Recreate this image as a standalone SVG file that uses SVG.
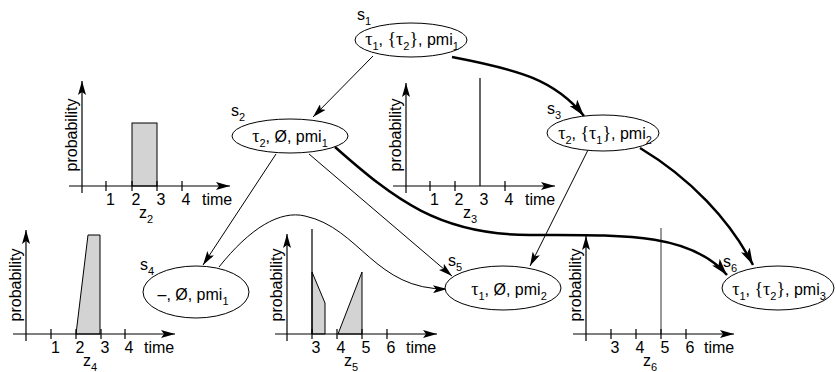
<svg xmlns="http://www.w3.org/2000/svg" width="836" height="372" viewBox="0 0 836 372">
<style>
text{font-family:"Liberation Sans",Arial,sans-serif;font-size:16px;fill:#000}
.g{font-family:"Liberation Serif","Times New Roman",serif;font-size:18px}
.sub{font-size:11px}
.node ellipse{fill:#fff;stroke:#000;stroke-width:1}
.thin{fill:none;stroke:#000;stroke-width:1}
.thick{fill:none;stroke:#000;stroke-width:2.5}
.axis{fill:none;stroke:#000;stroke-width:1.2}
.shade{fill:#d3d3d3;stroke:#000;stroke-width:1}
.mid{text-anchor:middle}
</style>
<defs>
<marker id="a" markerUnits="userSpaceOnUse" markerWidth="14" markerHeight="8" refX="14" refY="4" orient="auto" viewBox="0 0 14 8"><path d="M0,0 L14,4 L0,8 L3,4 Z" fill="#000"/></marker>
<marker id="b" markerUnits="userSpaceOnUse" markerWidth="17" markerHeight="10" refX="17" refY="5" orient="auto" viewBox="0 0 17 10"><path d="M0,0 L17,5 L0,10 L4,5 Z" fill="#000"/></marker>
</defs>

<!-- chart z2 -->
<g id="chart-z2">
<rect class="shade" x="132" y="123" width="25" height="63"/>
<path class="axis" d="M82,193 L82,81" marker-end="url(#a)"/>
<path class="axis" d="M69,186 L230,186" marker-end="url(#a)"/>
<path class="axis" d="M106,181 V191 M132,181 V191 M157,181 V191 M182,181 V191"/>
<text transform="translate(77,135) rotate(-90)" class="mid">probability</text>
<text x="106" y="205">1</text><text x="131.5" y="205">2</text><text x="156.5" y="205">3</text><text x="181.5" y="205">4</text><text x="202" y="205">time</text>
<text x="139" y="218">z<tspan class="sub" dy="5">2</tspan></text>
</g>

<!-- chart z3 -->
<g id="chart-z3">
<path class="axis" d="M480,78 L480,186"/>
<path class="axis" d="M406,193 L406,83" marker-end="url(#a)"/>
<path class="axis" d="M393,186 L555,186" marker-end="url(#a)"/>
<path class="axis" d="M430,181 V191 M455,181 V191 M505,181 V191"/>
<text transform="translate(401,135) rotate(-90)" class="mid">probability</text>
<text x="430" y="205">1</text><text x="454.5" y="205">2</text><text x="479.5" y="205">3</text><text x="504.5" y="205">4</text><text x="525" y="205">time</text>
<text x="463" y="218">z<tspan class="sub" dy="5">3</tspan></text>
</g>

<!-- chart z4 -->
<g id="chart-z4">
<polygon class="shade" points="76,334 88,235 100,235 100,334"/>
<path class="axis" d="M26,341 L26,230" marker-end="url(#a)"/>
<path class="axis" d="M13,334 L175,334" marker-end="url(#a)"/>
<path class="axis" d="M51,329 V339 M76,329 V339 M101,329 V339 M125,329 V339"/>
<text transform="translate(21,285) rotate(-90)" class="mid">probability</text>
<text x="51" y="353">1</text><text x="75.5" y="353">2</text><text x="100.5" y="353">3</text><text x="124.5" y="353">4</text><text x="144" y="353">time</text>
<text x="83" y="366">z<tspan class="sub" dy="5">4</tspan></text>
</g>

<!-- chart z5 -->
<g id="chart-z5">
<polygon class="shade" points="312,272 325,303 325,334 312,334"/>
<polygon class="shade" points="338,334 362,272 362,334"/>
<path class="axis" d="M312,229 L312,334"/>
<path class="axis" d="M287,341 L287,234" marker-end="url(#a)"/>
<path class="axis" d="M275,334 L437,334" marker-end="url(#a)"/>
<path class="axis" d="M312,329 V339 M337,329 V339 M362,329 V339 M387,329 V339"/>
<text transform="translate(282,285) rotate(-90)" class="mid">probability</text>
<text x="311.5" y="353">3</text><text x="336.5" y="353">4</text><text x="361.5" y="353">5</text><text x="386.5" y="353">6</text><text x="406" y="353">time</text>
<text x="344" y="366">z<tspan class="sub" dy="5">5</tspan></text>
</g>

<!-- chart z6 -->
<g id="chart-z6">
<path d="M661,228 L661,334" fill="none" stroke="#555" stroke-width="1.2"/>
<path class="axis" d="M586,341 L586,236" marker-end="url(#a)"/>
<path class="axis" d="M573,334 L734,334" marker-end="url(#a)"/>
<path class="axis" d="M611,329 V339 M636,329 V339 M661,329 V339 M686,329 V339"/>
<text transform="translate(581,285) rotate(-90)" class="mid">probability</text>
<text x="610.5" y="353">3</text><text x="635.5" y="353">4</text><text x="660.5" y="353">5</text><text x="685.5" y="353">6</text><text x="704" y="353">time</text>
<text x="643" y="366">z<tspan class="sub" dy="5">6</tspan></text>
</g>

<!-- connectors -->
<g id="connectors">
<path class="thin" d="M373,56 L313,117" marker-end="url(#a)"/>
<path class="thick" d="M452,57 C520,70 555,80 584,116" marker-end="url(#b)"/>
<path class="thin" d="M276,154 L203,265" marker-end="url(#a)"/>
<path class="thin" d="M309,154 L452,276" marker-end="url(#a)"/>
<path class="thick" d="M335,147 C395,200 440,235 530,235 C620,235 690,232 727,275" marker-end="url(#b)"/>
<path class="thin" d="M588,150 L530,266" marker-end="url(#a)"/>
<path class="thick" d="M640,148 C690,178 730,220 753,265" marker-end="url(#b)"/>
<path class="thin" d="M219,267 C250,228 280,210 305,216 C360,228 375,290 447,289" marker-end="url(#a)"/>
</g>

<!-- nodes -->
<g id="s1" class="node">
<ellipse cx="411" cy="40" rx="56" ry="17"/>
<text x="357" y="20">s<tspan class="sub" dy="5">1</tspan></text>
<text x="412" y="45" class="mid"><tspan class="g">τ</tspan><tspan class="sub" dy="5">1</tspan><tspan dy="-5">, </tspan><tspan class="g">{τ</tspan><tspan class="sub" dy="5">2</tspan><tspan class="g" dy="-5">}</tspan><tspan>, pmi</tspan><tspan class="sub" dy="5">1</tspan></text>
</g>
<g id="s2" class="node">
<ellipse cx="290" cy="136" rx="58" ry="17"/>
<text x="231" y="116">s<tspan class="sub" dy="5">2</tspan></text>
<text x="290" y="142" class="mid"><tspan class="g">τ</tspan><tspan class="sub" dy="5">2</tspan><tspan dy="-5">, Ø,  pmi</tspan><tspan class="sub" dy="5">1</tspan></text>
</g>
<g id="s3" class="node">
<ellipse cx="603" cy="133" rx="56" ry="18"/>
<text x="547" y="114">s<tspan class="sub" dy="5">3</tspan></text>
<text x="605" y="139" class="mid"><tspan class="g">τ</tspan><tspan class="sub" dy="5">2</tspan><tspan dy="-5">, </tspan><tspan class="g">{τ</tspan><tspan class="sub" dy="5">1</tspan><tspan class="g" dy="-5">}</tspan><tspan>, pmi</tspan><tspan class="sub" dy="5">2</tspan></text>
</g>
<g id="s4" class="node">
<ellipse cx="196" cy="292" rx="53" ry="26"/>
<text x="140" y="270">s<tspan class="sub" dy="5">4</tspan></text>
<text x="193" y="300" class="mid">–, Ø, pmi<tspan class="sub" dy="5">1</tspan></text>
</g>
<g id="s5" class="node">
<ellipse cx="503" cy="288" rx="58" ry="22"/>
<text x="448" y="266">s<tspan class="sub" dy="5">5</tspan></text>
<text x="509" y="295" class="mid"><tspan class="g">τ</tspan><tspan class="sub" dy="5">1</tspan><tspan dy="-5">, Ø, pmi</tspan><tspan class="sub" dy="5">2</tspan></text>
</g>
<g id="s6" class="node">
<ellipse cx="778" cy="288" rx="56" ry="22"/>
<text x="723" y="267">s<tspan class="sub" dy="5">6</tspan></text>
<text x="779" y="295" class="mid"><tspan class="g">τ</tspan><tspan class="sub" dy="5">1</tspan><tspan dy="-5">, </tspan><tspan class="g">{τ</tspan><tspan class="sub" dy="5">2</tspan><tspan class="g" dy="-5">}</tspan><tspan>, pmi</tspan><tspan class="sub" dy="5">3</tspan></text>
</g>
</svg>
